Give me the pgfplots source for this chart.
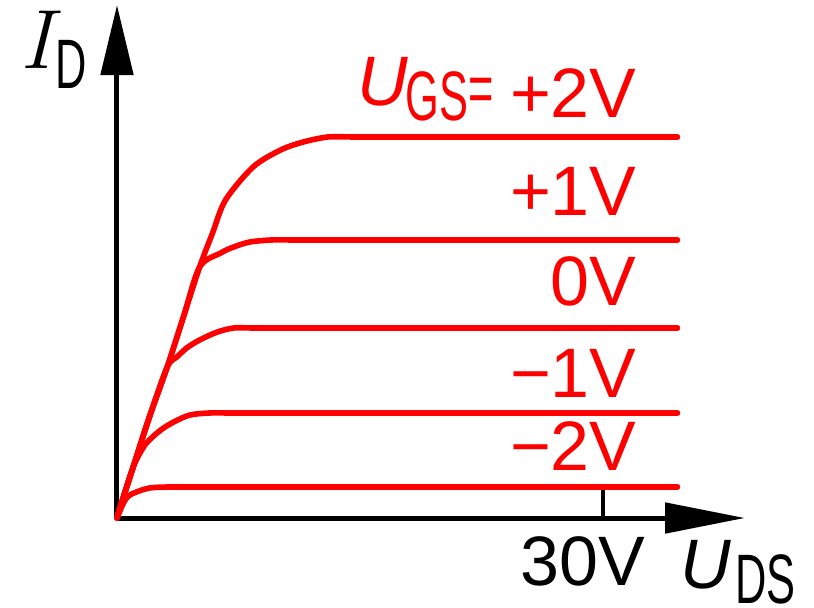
\documentclass[border=0pt]{standalone}
\usepackage{pgfplots}
\pgfplotsset{compat=1.18}
\usetikzlibrary{arrows.meta}
\usepackage{fontspec}
\setmainfont{Liberation Sans}
\newfontfamily\cond{Liberation Sans}[FakeStretch=0.62]
\newfontfamily\lmr{Latin Modern Roman}

\begin{document}
\begin{tikzpicture}
\useasboundingbox (-58.5pt,-44.5pt) rectangle (348.5pt,259pt);
\tikzset{lab/.style={font=\fontsize{35}{40}\selectfont, inner sep=0pt}}
\begin{axis}[
  at={(0,0)}, anchor=south west,
  scale only axis, width=314pt, height=256.5pt,
  xmin=0, xmax=38.77, ymin=0, ymax=51.3,
  axis lines=left,
  axis line style={black, line width=2.5pt},
  x axis line style={-{Triangle[length=40pt,width=15pt]}},
  y axis line style={-{Triangle[length=35pt,width=16pt]}},
  xtick={30}, xticklabels={}, ytick=\empty,
  major tick length=15.5pt, tick align=inside,
  tick style={black, line width=2pt},
  clip=false,
  curve/.style={red, line width=2.8pt, line cap=round, line join=round},
]
% output characteristics: ohmic region (smooth) then saturation (flat)
\addplot[curve, smooth, tension=0.5] coordinates {
  (0,0) (0.2,1.1) (1.0,5.1) (2.0,10.1) (3.1,15.1) (4.1,20.1) (5.1,25.1)
  (5.9,28.5) (6.7,31.8) (8.4,35.1) (10.1,36.8) (11.5,37.6) (13.0,38.1) (14.5,38.1)};
\addplot[curve] coordinates {(14.5,38.1) (34.6,38.1)};
\addplot[curve, smooth, tension=0.5] coordinates {
  (0,0) (0.2,1.1) (1.0,5.1) (2.0,10.1) (3.1,15.1) (4.1,20.1) (5.1,25.1)
  (6.4,26.5) (7.2,27.1) (8.2,27.6) (9.5,27.8) (10.8,27.8)};
\addplot[curve] coordinates {(10.8,27.8) (34.6,27.8)};
\addplot[curve, smooth, tension=0.5] coordinates {
  (0,0) (0.2,1.1) (1.0,5.1) (2.0,10.1) (3.1,15.1) (3.7,16.1) (4.3,17.0)
  (5.1,17.8) (6.2,18.6) (7.2,19.0) (8.3,19.0)};
\addplot[curve] coordinates {(8.3,19.0) (34.6,19.0)};
\addplot[curve, smooth, tension=0.5] coordinates {
  (0,0) (0.2,1.1) (1.0,5.1) (1.6,7.0) (2.0,7.8) (2.7,8.8) (3.5,9.6)
  (4.5,10.3) (5.7,10.5) (6.8,10.5)};
\addplot[curve] coordinates {(6.8,10.5) (34.6,10.5)};
\addplot[curve, smooth, tension=0.5] coordinates {
  (0,0) (0.4,1.5) (0.7,2.2) (1.2,2.6) (2.0,3.0) (3.1,3.1) (4.0,3.1)};
\addplot[curve] coordinates {(4.0,3.1) (34.6,3.1)};

% axis labels
\node[lab, anchor=base west] at (axis cs:-6.0,45) {\fontsize{42}{42}\selectfont\lmr\itshape I};
\node[lab, anchor=base west] at (axis cs:-3.83,43.0) {\cond D};
\node[lab, anchor=base west] at (axis cs:34.75,-7.0) {\itshape U};
\node[lab, anchor=base west] at (axis cs:38.15,-8.5) {\cond DS};
\node[lab, anchor=base west] at (axis cs:24.9,-6.7) {30V};

% curve parameters
\node[lab, red, anchor=base west] at (axis cs:14.8,41.3) {\itshape U};
\node[lab, red, anchor=base west] at (axis cs:17.8,39.8) {\cond GS};
\node[lab, red, anchor=center] at (axis cs:22.5,42.3) {\cond =};
\node[lab, red, anchor=base east] at (axis cs:32.1,40.1) {+2V};
\node[lab, red, anchor=base east] at (axis cs:32.1,30.3) {+1V};
\node[lab, red, anchor=base east] at (axis cs:32.1,21.3) {0V};
\node[lab, red, anchor=base east] at (axis cs:32.1,12.1) {−1V};
\node[lab, red, anchor=base east] at (axis cs:32.1,4.8) {−2V};
\end{axis}
\end{tikzpicture}
\end{document}
